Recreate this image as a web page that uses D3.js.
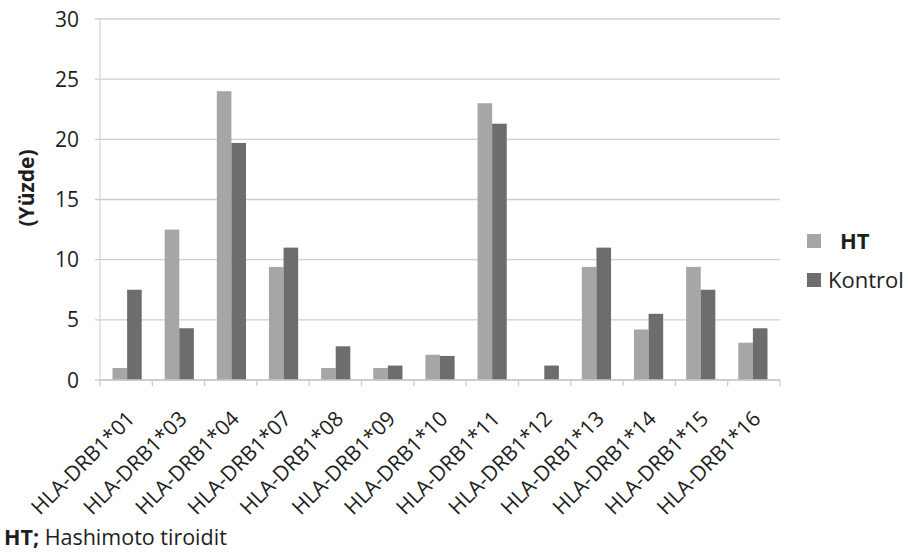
<!DOCTYPE html>
<html>
<head>
<meta charset="utf-8">
<script src="https://cdn.jsdelivr.net/npm/d3@7"></script>
<style>
  html, body { margin: 0; padding: 0; background: #fff; }
  svg { display: block; font-family: "Open Sans", Lato, sans-serif; }
</style>
</head>
<body>
<svg id="chart" width="908" height="554"></svg>
<script>
// HLA-DRB1 allele frequencies (%) in Hashimoto thyroiditis vs controls
const categories = ["HLA-DRB1*01", "HLA-DRB1*03", "HLA-DRB1*04", "HLA-DRB1*07", "HLA-DRB1*08",
  "HLA-DRB1*09", "HLA-DRB1*10", "HLA-DRB1*11", "HLA-DRB1*12", "HLA-DRB1*13",
  "HLA-DRB1*14", "HLA-DRB1*15", "HLA-DRB1*16"];
const htValues      = [1.0, 12.5, 24.0, 9.4, 1.0, 1.0, 2.1, 23.0, 0.0, 9.4, 4.2, 9.4, 3.1];
const kontrolValues = [7.5, 4.3, 19.7, 11.0, 2.8, 1.2, 2.0, 21.3, 1.2, 11.0, 5.5, 7.5, 4.3];
const seriesNames = ["HT", "Kontrol"];
const yTicks = [0, 5, 10, 15, 20, 25, 30];

const colors = { HT: "#a6a6a6", Kontrol: "#6d6d6d" };
const textColor = "#1e1e1e";

const svg = d3.select("#chart");
const plot = { left: 100, right: 780, top: 19, bottom: 380 };

const x = d3.scaleBand().domain(categories).range([plot.left, plot.right]).paddingInner(0.44).paddingOuter(0.24);
const xSub = d3.scaleBand().domain(seriesNames).range([0, x.bandwidth()]);
const y = d3.scaleLinear().domain([0, 30]).range([plot.bottom, plot.top]);

// horizontal gridlines
svg.append("g")
  .selectAll("line")
  .data(yTicks)
  .join("line")
  .attr("x1", plot.left - 5).attr("x2", plot.right)
  .attr("y1", d => y(d)).attr("y2", d => y(d))
  .attr("stroke", "#cfcfcf").attr("stroke-width", 1.3);

// vertical axis line
svg.append("line")
  .attr("x1", plot.left).attr("x2", plot.left)
  .attr("y1", plot.top).attr("y2", plot.bottom)
  .attr("stroke", "#d4d4d4").attr("stroke-width", 1.2);

// y tick labels
svg.append("g")
  .selectAll("text")
  .data(yTicks)
  .join("text")
  .attr("x", 79).attr("y", d => y(d))
  .attr("dy", "0.36em")
  .attr("text-anchor", "end")
  .attr("font-size", 21)
  .attr("fill", textColor)
  .text(d => d);

// y axis title
svg.append("text")
  .attr("transform", "translate(26,188) rotate(-90)")
  .attr("dy", "0.36em")
  .attr("text-anchor", "middle")
  .attr("font-size", 21)
  .attr("font-weight", "bold")
  .attr("fill", textColor)
  .text("(Yüzde)");

// bars
const rows = categories.map((c, i) => ({ cat: c, values: [
  { key: "HT", value: htValues[i] },
  { key: "Kontrol", value: kontrolValues[i] }
]}));

svg.append("g")
  .selectAll("g")
  .data(rows)
  .join("g")
  .attr("transform", d => `translate(${x(d.cat)},0)`)
  .selectAll("rect")
  .data(d => d.values)
  .join("rect")
  .attr("x", d => xSub(d.key))
  .attr("width", xSub.bandwidth())
  .attr("y", d => y(d.value))
  .attr("height", d => y(0) - y(d.value))
  .attr("fill", d => colors[d.key]);

// x axis baseline and category boundary ticks
svg.append("line")
  .attr("x1", plot.left).attr("x2", plot.right)
  .attr("y1", plot.bottom).attr("y2", plot.bottom)
  .attr("stroke", "#c8c8c8").attr("stroke-width", 1.3);
const boundaries = d3.range(categories.length + 1)
  .map(i => plot.left + i * (plot.right - plot.left) / categories.length);
svg.append("g")
  .selectAll("line")
  .data(boundaries)
  .join("line")
  .attr("x1", d => d).attr("x2", d => d)
  .attr("y1", plot.bottom).attr("y2", plot.bottom + 6)
  .attr("stroke", "#c8c8c8").attr("stroke-width", 1.2);

// rotated category labels
svg.append("g")
  .selectAll("text")
  .data(categories)
  .join("text")
  .attr("transform", d => `translate(${x(d) + x.bandwidth() / 2 + 9},${plot.bottom + 40}) rotate(-45)`)
  .attr("text-anchor", "end")
  .attr("font-size", 21)
  .attr("fill", textColor)
  .text(d => d);

// legend
const legend = svg.append("g");
seriesNames.forEach((name, i) => {
  const ly = 241 + i * 39;
  legend.append("rect")
    .attr("x", 807).attr("y", ly - 7)
    .attr("width", 14).attr("height", 14)
    .attr("fill", colors[name]);
  legend.append("text")
    .attr("x", name === "HT" ? 840 : 828)
    .attr("y", ly)
    .attr("dy", "0.36em")
    .attr("font-size", 22)
    .attr("font-weight", name === "HT" ? "bold" : "normal")
    .attr("fill", textColor)
    .text(name);
});

// footnote
const note = svg.append("text")
  .attr("x", 4).attr("y", 545)
  .attr("font-size", 21.5)
  .attr("fill", textColor);
note.append("tspan").attr("font-weight", "bold").text("HT;");
note.append("tspan").text(" Hashimoto tiroidit");
</script>
</body>
</html>
